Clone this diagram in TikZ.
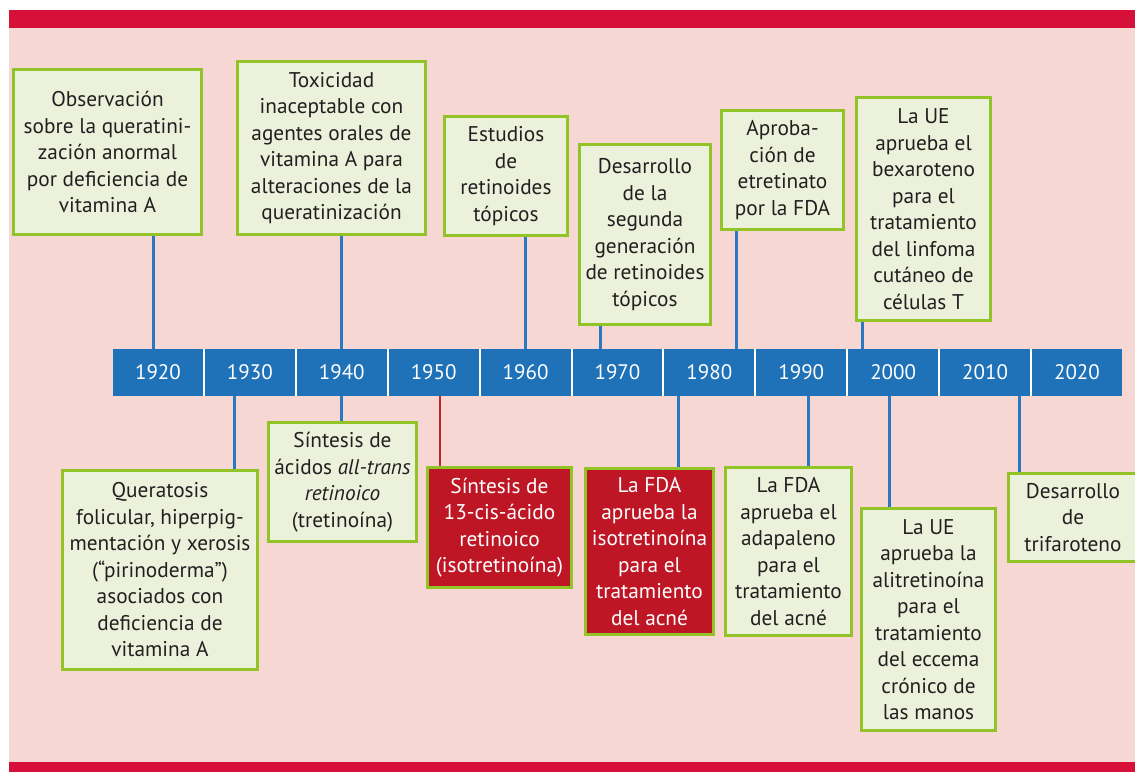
\documentclass[tikz,border=0pt]{standalone}
\usepackage{fontspec}
\setmainfont{PT Sans}
\definecolor{bandred}{RGB}{215,16,58}
\definecolor{bgpink}{RGB}{246,215,211}
\definecolor{boxfill}{RGB}{236,241,219}
\definecolor{boxgreen}{RGB}{146,196,39}
\definecolor{barblue}{RGB}{31,113,184}
\definecolor{connblue}{RGB}{42,120,194}
\definecolor{boxred}{RGB}{190,22,36}
\definecolor{connred}{RGB}{193,39,45}
\definecolor{textdark}{RGB}{35,31,32}
\begin{document}
\begin{tikzpicture}[x=1pt,y=-1pt,
  gbox/.style={draw=boxgreen, line width=3pt, fill=boxfill, align=center, inner sep=0pt,
    font=\fontsize{21.3}{26.5}\selectfont, text=textdark},
  rbox/.style={gbox, fill=boxred, text=white},
  conn/.style={draw=connblue, line width=3pt},
  rconn/.style={draw=connred, line width=2.5pt},
  year/.style={fill=barblue, minimum width=89.9pt, minimum height=47pt, inner sep=0pt,
    text=white, font=\fontsize{21}{24}\selectfont}]
\useasboundingbox (0,0) rectangle (1135,772);
\fill[white] (0,0) rectangle (1135,772);
\begin{scope}
\clip (0,0) rectangle (1135,772);
\fill[bgpink] (9,28) rectangle (1135,762);
\fill[bandred] (9,10) rectangle (1135,28);
\fill[bandred] (9,762) rectangle (1135,772);
% timeline bar
\fill[white] (113,349) rectangle (1122,396);
\foreach \yr [count=\i from 0] in {1920,1930,1940,1950,1960,1970,1980,1990,2000,2010,2020}
  \node[year] (c\yr) at ({112+91.9*(\i+0.5)},372.5) {\yr};
% boxes above
\node[gbox, minimum width=188pt, minimum height=165pt] (obs) at (107.5,152)
  {Observación\\sobre la queratini-\\zación anormal\\por deficiencia de\\vitamina A};
\node[gbox, minimum width=188pt, minimum height=173pt] (tox) at (331.5,148)
  {Toxicidad\\inaceptable con\\agentes orales de\\vitamina A para\\alteraciones de la\\queratinización};
\node[gbox, minimum width=123pt, minimum height=119pt] (est) at (506,176)
  {Estudios\\de\\retinoides\\tópicos};
\node[gbox, minimum width=131pt, minimum height=180pt] (des) at (645,234.5)
  {Desarrollo\\de la\\segunda\\generación\\de retinoides\\tópicos};
\node[gbox, minimum width=122pt, minimum height=119pt] (apr) at (782.5,170)
  {Aproba-\\ción de\\etretinato\\por la FDA};
\node[gbox, minimum width=134pt, minimum height=223pt] (bex) at (923.5,209)
  {La UE\\aprueba el\\bexaroteno\\para el\\tratamiento\\del linfoma\\cutáneo de\\células T};
% boxes below
\node[gbox, minimum width=195pt, minimum height=199pt] (que) at (160,570)
  {Queratosis\\folicular, hiperpig-\\mentación y xerosis\\(“pirinoderma”)\\asociados con\\deficiencia de\\vitamina A};
\node[gbox, minimum width=148pt, minimum height=119pt] (all) at (342.5,482)
  {Síntesis de\\ácidos \textit{all-trans}\\\textit{retinoico}\\(tretinoína)};
\node[rbox, minimum width=144pt, minimum height=120pt] (cis) at (499.5,527.5)
  {Síntesis de\\13-cis-ácido\\retinoico\\(isotretinoína)};
\node[rbox, minimum width=128pt, minimum height=166pt] (iso) at (649.5,551.5)
  {La FDA\\aprueba la\\isotretinoína\\para el\\tratamiento\\del acné};
\node[gbox, minimum width=126pt, minimum height=168pt] (ada) at (788.5,551.5)
  {La FDA\\aprueba el\\adapaleno\\para el\\tratamiento\\del acné};
\node[gbox, minimum width=134pt, minimum height=222pt] (ali) at (928.5,619.5)
  {La UE\\aprueba la\\alitretinoína\\para el\\tratamiento\\del eccema\\crónico de\\las manos};
\node[gbox, minimum width=129pt, minimum height=88pt] (tri) at (1073,517.5)
  {Desarrollo\\de\\trifaroteno};
% connector x positions
\coordinate (xa) at (153,0);
\coordinate (xb) at (341,0);
\coordinate (xc) at (525,0);
\coordinate (xd) at (600,0);
\coordinate (xe) at (736,0);
\coordinate (xf) at (862,0);
\coordinate (xg) at (234,0);
\coordinate (xh) at (440,0);
\coordinate (xi) at (678,0);
\coordinate (xj) at (808,0);
\coordinate (xk) at (889,0);
\coordinate (xl) at (1019,0);
\draw[conn] (obs.south -| xa) -- (c1920.north -| xa);
\draw[conn] (tox.south -| xb) -- (c1940.north -| xb);
\draw[conn] (est.south -| xc) -- (c1960.north -| xc);
\draw[conn] (des.south -| xd) -- (c1970.north -| xd);
\draw[conn] (apr.south -| xe) -- (c1980.north -| xe);
\draw[conn] (bex.south -| xf) -- (c2000.north -| xf);
\draw[conn] (c1930.south -| xg) -- (que.north -| xg);
\draw[conn] (c1940.south -| xb) -- (all.north -| xb);
\draw[rconn] (c1950.south -| xh) -- (cis.north -| xh);
\draw[conn] (c1980.south -| xi) -- (iso.north -| xi);
\draw[conn] (c1990.south -| xj) -- (ada.north -| xj);
\draw[conn] (c2000.south -| xk) -- (ali.north -| xk);
\draw[conn] (c2010.south -| xl) -- (tri.north -| xl);
\end{scope}
\end{tikzpicture}
\end{document}
